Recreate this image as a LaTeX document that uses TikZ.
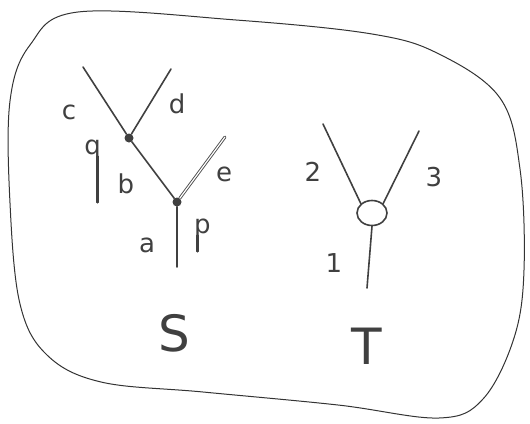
\documentclass[tikz,border=0pt]{standalone}
\usepackage{fontspec}
\setmainfont{DejaVu Sans}
\usetikzlibrary{shapes.geometric}
\begin{document}
\begin{tikzpicture}[x=1pt,y=-1pt,
  stroke/.style={draw=black!75,line width=1.6pt,line cap=round},
  tail/.style={draw=black!75,line width=2.4pt,line cap=round},
  lbl/.style={font=\fontsize{26}{28}\selectfont,text=black!75,inner sep=0pt},
  big/.style={font=\fontsize{50}{52}\selectfont,text=black!75,inner sep=0pt},
  vert/.style={circle,fill=black!75,inner sep=0pt,minimum size=9pt}]
\useasboundingbox (0,0) rectangle (530,423);
% outline blob
\draw[black!80,line width=1pt] plot[smooth cycle,tension=0.6] coordinates {
 (78,12) (236,20) (372,34) (439,54) (500,98) (520,169) (524,270) (514,338)
 (483,399) (439,418) (338,405) (203,392) (101,382) (47,355) (20,304)
 (10,203) (10,101) (30,45)};
% tree S
\node[vert] (q) at (129,138) {};
\node[vert] (p) at (177,202) {};
\coordinate (c) at (83,67);
\coordinate (d) at (171,69);
\coordinate (e) at (225,137);
\coordinate (a) at (177,267);
\draw[stroke] (c) -- (q);
\draw[stroke] (d) -- (q);
\draw[stroke] (q) -- (p);
\draw[stroke] (p) -- (a);
\draw[draw=black!70,line width=0.9pt,double=white,double distance=1.2pt,line cap=round] (p) -- (e);
\node[lbl] (lc) at (69,112) {c};
\node[lbl,anchor=north east] (lq) at (101,140) {q};
\draw[tail] ([xshift=-3.5pt,yshift=4pt]lq.south east) -- ([xshift=-3.5pt,yshift=-42pt]lq.south east);
\node[lbl] (ld) at (177,104) {d};
\node[lbl] (lb) at (126,184) {b};
\node[lbl] (le) at (224,174) {e};
\node[lbl,anchor=north west] (lp) at (194,219) {p};
\draw[tail] ([xshift=3.6pt,yshift=4pt]lp.south west) -- ([xshift=3.6pt,yshift=-12pt]lp.south west);
\node[lbl] (la) at (147,245) {a};
\node[big] (S) at (174,333) {S};
% tree T
\node[draw=black!75,line width=1.6pt,ellipse,minimum width=30pt,minimum height=25pt,inner sep=0pt] (t) at (372,213) {};
\coordinate (t2) at (323,124);
\coordinate (t3) at (419,131);
\coordinate (t1) at (367,288);
\draw[stroke] (t2) -- (t.north west);
\draw[stroke] (t3) -- (t.north east);
\draw[stroke] (t.south) -- (t1);
\node[lbl] (l2) at (313,172) {2};
\node[lbl] (l3) at (434,177) {3};
\node[lbl] (l1) at (334,263) {1};
\node[big] (T) at (367,346) {T};
\end{tikzpicture}
\end{document}
